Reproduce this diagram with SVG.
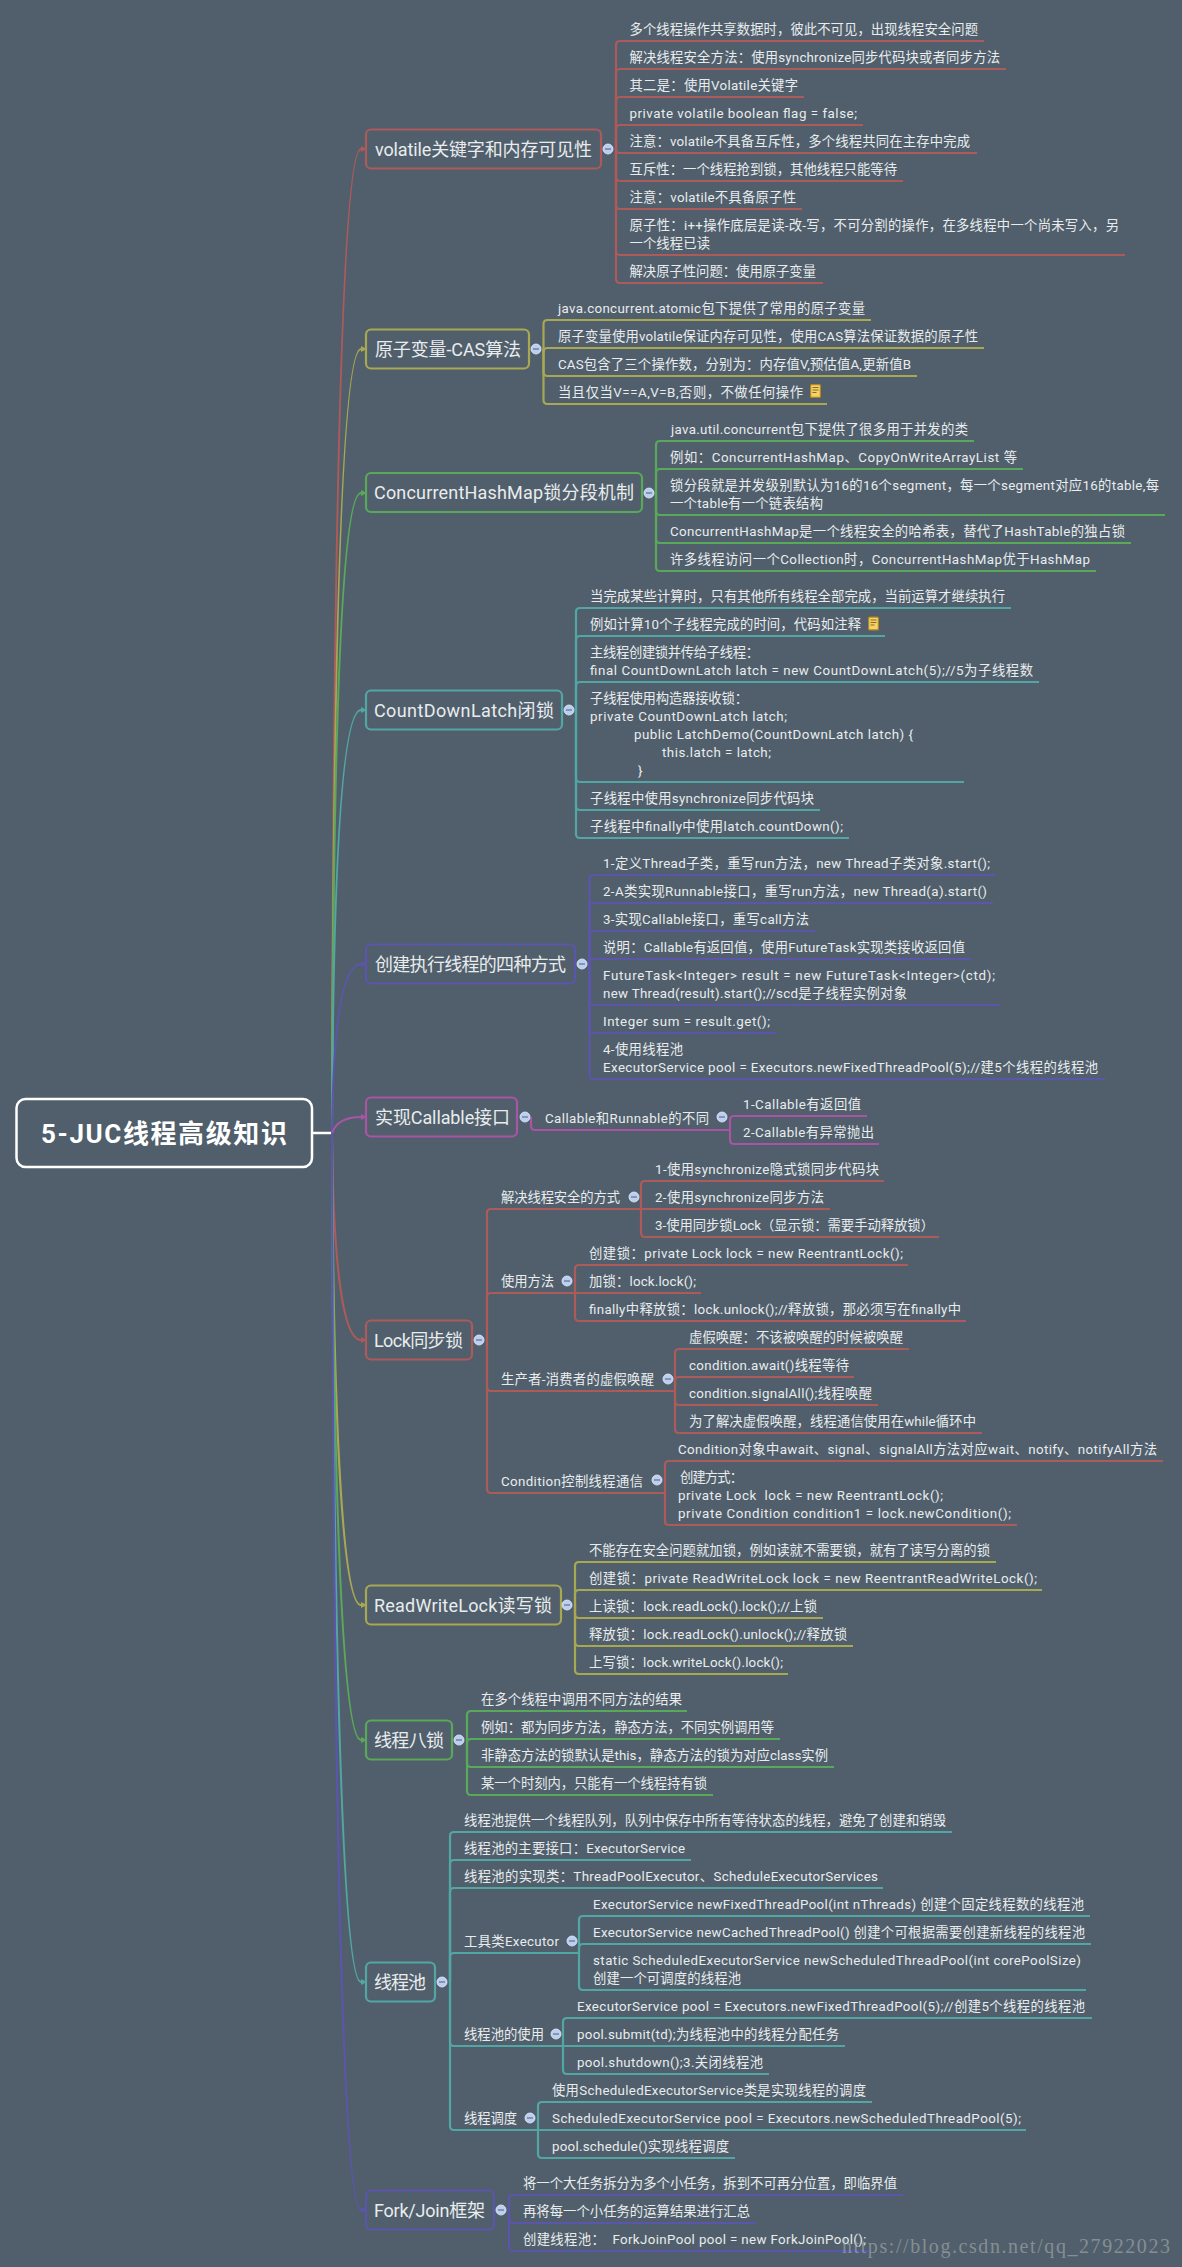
<svg xmlns="http://www.w3.org/2000/svg" width="1182" height="2267" viewBox="0 0 1182 2267">
<style>
text{font-family:Roboto,"Noto Sans CJK SC",sans-serif;fill:#e9ecee}
.t{font-size:13.33px}
.n{font-size:18px}
.r{font-size:26px;font-weight:700;fill:#fff}
.b{fill:none;stroke-width:2.2}
.s{fill:none;stroke-width:2}
.c1{stroke:#ad5a5a}.c2{stroke:#a8a752}.c3{stroke:#5aa85a}.c4{stroke:#52a6a4}.c5{stroke:#5b56ac}.c6{stroke:#aa54a5}
.box{fill:none;stroke-width:2.2}
.d{fill:#bccff2;stroke:#dfe8f8;stroke-width:.8}
.m{stroke:#5f6f86;stroke-width:1.2}
</style>
<defs>
<marker id="a1" viewBox="0 0 6 6" refX="0" refY="3" markerWidth="6" markerHeight="6" markerUnits="userSpaceOnUse" orient="auto"><path d="M0 0L6 3L0 6z" fill="#ad5a5a"/></marker>
<marker id="a2" viewBox="0 0 6 6" refX="0" refY="3" markerWidth="6" markerHeight="6" markerUnits="userSpaceOnUse" orient="auto"><path d="M0 0L6 3L0 6z" fill="#a8a752"/></marker>
<marker id="a3" viewBox="0 0 6 6" refX="0" refY="3" markerWidth="6" markerHeight="6" markerUnits="userSpaceOnUse" orient="auto"><path d="M0 0L6 3L0 6z" fill="#5aa85a"/></marker>
<marker id="a4" viewBox="0 0 6 6" refX="0" refY="3" markerWidth="6" markerHeight="6" markerUnits="userSpaceOnUse" orient="auto"><path d="M0 0L6 3L0 6z" fill="#52a6a4"/></marker>
<marker id="a5" viewBox="0 0 6 6" refX="0" refY="3" markerWidth="6" markerHeight="6" markerUnits="userSpaceOnUse" orient="auto"><path d="M0 0L6 3L0 6z" fill="#5b56ac"/></marker>
<marker id="a6" viewBox="0 0 6 6" refX="0" refY="3" markerWidth="6" markerHeight="6" markerUnits="userSpaceOnUse" orient="auto"><path d="M0 0L6 3L0 6z" fill="#aa54a5"/></marker>
<g id="note"><rect x=".6" y=".6" width="9.8" height="12.8" rx="1" fill="#f3d36a" stroke="#b5851f" stroke-width="1.2"/><path d="M2.5 3.5H8.5M2.5 6H8.5M2.5 8.5H6.5" stroke="#8a6a20" stroke-width="1"/></g>
</defs>
<rect width="1182" height="2267" fill="#505f6b"/>
<g id="connectors">
<path d="M312 1133H332" stroke="#fff" stroke-width="2.5" fill="none"/>
<path class="s c1" marker-end="url(#a1)" d="M332 1133C333 600 340 149 361 149"/>
<path class="s c2" marker-end="url(#a2)" d="M332 1133C333 700 340 349 361 349"/>
<path class="s c3" marker-end="url(#a3)" d="M332 1133C333 770 340 493 361 493"/>
<path class="s c4" marker-end="url(#a4)" d="M332 1133C333 900 340 710 361 710"/>
<path class="s c5" marker-end="url(#a5)" d="M332 1133C333 1040 340 964 361 964"/>
<path class="s c6" marker-end="url(#a6)" stroke-width="2.2" d="M332 1133C336 1122 345 1117 361 1117"/>
<path class="s c1" marker-end="url(#a1)" d="M332 1133C333 1240 340 1340 361 1340"/>
<path class="s c2" marker-end="url(#a2)" d="M332 1133C333 1370 340 1605 361 1605"/>
<path class="s c3" marker-end="url(#a3)" d="M332 1133C333 1430 340 1740 361 1740"/>
<path class="s c4" marker-end="url(#a4)" d="M332 1133C333 1550 340 1982 361 1982"/>
<path class="s c5" marker-end="url(#a5)" d="M332 1133C333 1670 340 2210 361 2210"/>

<g class="b c1">
<path d="M616 149V45Q616 41 620 41H984"/><path d="M616 149V73Q616 69 620 69H1006"/><path d="M616 149V101Q616 97 620 97H804"/><path d="M616 149V129Q616 125 620 125H863"/><path d="M616 149Q616 153 620 153H977"/><path d="M616 149V177Q616 181 620 181H903"/><path d="M616 149V205Q616 209 620 209H802"/><path d="M616 149V251Q616 255 620 255H1125"/><path d="M616 149V279Q616 283 620 283H823"/>
</g>
<g class="b c2">
<path d="M543.500 349V324Q543.500 320 547.500 320H871"/><path d="M543.500 352Q543.500 348 547.500 348H984"/><path d="M543.500 349V372Q543.500 376 547.500 376H917"/><path d="M543.500 349V400Q543.500 404 547.500 404H827"/>
</g>
<g class="b c3">
<path d="M656 493V445Q656 441 660 441H974"/><path d="M656 493V473Q656 469 660 469H1023"/><path d="M656 493V511Q656 515 660 515H1165"/><path d="M656 493V539Q656 543 660 543H1131"/><path d="M656 493V567Q656 571 660 571H1096"/>
</g>
<g class="b c4">
<path d="M576 710V612Q576 608 580 608H1011"/><path d="M576 710V640Q576 636 580 636H885"/><path d="M576 710V686Q576 682 580 682H1039"/><path d="M576 710V778Q576 782 580 782H964"/><path d="M576 710V806Q576 810 580 810H820"/><path d="M576 710V834Q576 838 580 838H849"/>
</g>
<g class="b c5">
<path d="M589.500 964V879Q589.500 875 593.500 875H995"/><path d="M589.500 964V907Q589.500 903 593.500 903H993"/><path d="M589.500 964V935Q589.500 931 593.500 931H815"/><path d="M589.500 964V963Q589.500 959 593.500 959H971"/><path d="M589.500 964V1001Q589.500 1005 593.500 1005H1000"/><path d="M589.500 964V1029Q589.500 1033 593.500 1033H776"/><path d="M589.500 964V1075Q589.500 1079 593.500 1079H1105"/>
</g>
<g class="b c6">
<path d="M531 1117V1126Q531 1130 535 1130H729"/>
<path d="M730 1130V1120Q730 1116 734 1116H867"/><path d="M730 1130V1140Q730 1144 734 1144H879"/>
</g>
<g class="b c1">
<path d="M487 1340V1213Q487 1209 491 1209H641"/><path d="M487 1340V1297Q487 1293 491 1293H575"/><path d="M487 1340V1387Q487 1391 491 1391H675"/><path d="M487 1340V1489Q487 1493 491 1493H665"/>
<path d="M641 1209V1185Q641 1181 645 1181H884"/><path d="M641 1209H830"/><path d="M641 1209V1233Q641 1237 645 1237H939"/>
<path d="M575 1293V1269Q575 1265 579 1265H908"/><path d="M575 1293H701"/><path d="M575 1293V1317Q575 1321 579 1321H966"/>
<path d="M675 1391V1353Q675 1349 679 1349H909"/><path d="M675 1391V1381Q675 1377 679 1377H854"/><path d="M675 1391V1401Q675 1405 679 1405H878"/><path d="M675 1391V1429Q675 1433 679 1433H982"/>
<path d="M665 1493V1465Q665 1461 669 1461H1163"/><path d="M665 1493V1521Q665 1525 669 1525H1017"/>
</g>
<g class="b c2">
<path d="M575 1605V1566Q575 1562 579 1562H996"/><path d="M575 1605V1594Q575 1590 579 1590H1042"/><path d="M575 1605V1614Q575 1618 579 1618H823"/><path d="M575 1605V1642Q575 1646 579 1646H853"/><path d="M575 1605V1670Q575 1674 579 1674H788"/>
</g>
<g class="b c3">
<path d="M467 1740V1715Q467 1711 471 1711H687"/><path d="M467 1743Q467 1739 471 1739H780"/><path d="M467 1740V1763Q467 1767 471 1767H834"/><path d="M467 1740V1791Q467 1795 471 1795H713"/>
</g>
<g class="b c4">
<path d="M450 1982V1836Q450 1832 454 1832H952"/><path d="M450 1982V1864Q450 1860 454 1860H691"/><path d="M450 1982V1892Q450 1888 454 1888H883"/><path d="M450 1982V1957Q450 1953 454 1953H579"/><path d="M450 1982V2042Q450 2046 454 2046H845"/><path d="M450 1982V2126Q450 2130 454 2130H1026"/>
<path d="M579 1953V1920Q579 1916 583 1916H1090"/><path d="M579 1953V1948Q579 1944 583 1944H1091"/><path d="M579 1953V1986Q579 1990 583 1990H1086"/>
<path d="M563 2046V2022Q563 2018 567 2018H1092"/><path d="M563 2046V2070Q563 2074 567 2074H769"/>
<path d="M538 2130V2106Q538 2102 542 2102H872"/><path d="M538 2130V2154Q538 2158 542 2158H735"/>
</g>
<g class="b c5">
<path d="M509 2210V2199Q509 2195 513 2195H903"/><path d="M509 2210V2219Q509 2223 513 2223H756"/><path d="M509 2210V2247Q509 2251 513 2251H871"/>
</g>
</g>

<g id="root"><rect x="16.500" y="1099" width="295.500" height="68" rx="9" fill="none" stroke="#fff" stroke-width="2.5"/><text class="r" x="41" y="1142.500" textLength="246">5-JUC线程高级知识</text></g>

<g id="volatile"><rect class="box c1" x="366" y="129.500" width="235" height="39" rx="5"/><text class="n" x="375" y="155.500" textLength="217">volatile关键字和内存可见性</text><circle class="d" cx="608" cy="149" r="5"/><path class="m" d="M605 149H611"/></g>
<g id="v1"><text class="t" x="629.500" y="34" textLength="348.500">多个线程操作共享数据时，彼此不可见，出现线程安全问题</text></g>
<g id="v2"><text class="t" x="629.500" y="62" textLength="370.500">解决线程安全方法：使用synchronize同步代码块或者同步方法</text></g>
<g id="v3"><text class="t" x="629.500" y="90" textLength="168.500">其二是：使用Volatile关键字</text></g>
<g id="v4"><text class="t" x="629.500" y="118" textLength="227.500">private volatile boolean flag = false;</text></g>
<g id="v5"><text class="t" x="629.500" y="146" textLength="340.500">注意：volatile不具备互斥性，多个线程共同在主存中完成</text></g>
<g id="v6"><text class="t" x="629.500" y="174" textLength="267.500">互斥性：一个线程抢到锁，其他线程只能等待</text></g>
<g id="v7"><text class="t" x="629.500" y="202" textLength="166.500">注意：volatile不具备原子性</text></g>
<g id="v8"><text class="t" x="629.500" y="230" textLength="489.500">原子性：i++操作底层是读-改-写，不可分割的操作，在多线程中一个尚未写入，另</text><text class="t" x="629.500" y="248" textLength="80.500">一个线程已读</text></g>
<g id="v9"><text class="t" x="629.500" y="276" textLength="186.500">解决原子性问题：使用原子变量</text></g>

<g id="cas"><rect class="box c2" x="366" y="329.500" width="163" height="39" rx="5"/><text class="n" x="375" y="355.500" textLength="146">原子变量-CAS算法</text><circle class="d" cx="536" cy="349" r="5"/><path class="m" d="M533 349H539"/></g>
<g id="c1"><text class="t" x="558" y="313" textLength="307">java.concurrent.atomic包下提供了常用的原子变量</text></g>
<g id="c2"><text class="t" x="558" y="341" textLength="420">原子变量使用volatile保证内存可见性，使用CAS算法保证数据的原子性</text></g>
<g id="c3"><text class="t" x="558" y="369" textLength="353">CAS包含了三个操作数，分别为：内存值V,预估值A,更新值B</text></g>
<g id="c4"><text class="t" x="558" y="397" textLength="245">当且仅当V==A,V=B,否则，不做任何操作</text><use href="#note" x="810" y="384"/></g>

<g id="chm"><rect class="box c3" x="366" y="473" width="276" height="39" rx="5"/><text class="n" x="374" y="499" textLength="260">ConcurrentHashMap锁分段机制</text><circle class="d" cx="649" cy="493" r="5"/><path class="m" d="M646 493H652"/></g>
<g id="h1"><text class="t" x="671" y="434" textLength="297">java.util.concurrent包下提供了很多用于并发的类</text></g>
<g id="h2"><text class="t" x="670" y="462" textLength="347">例如：ConcurrentHashMap、CopyOnWriteArrayList 等</text></g>
<g id="h3"><text class="t" x="670" y="490" textLength="489">锁分段就是并发级别默认为16的16个segment，每一个segment对应16的table,每</text><text class="t" x="670" y="508" textLength="153">一个table有一个链表结构</text></g>
<g id="h4"><text class="t" x="670" y="536" textLength="455">ConcurrentHashMap是一个线程安全的哈希表，替代了HashTable的独占锁</text></g>
<g id="h5"><text class="t" x="670" y="564" textLength="420">许多线程访问一个Collection时，ConcurrentHashMap优于HashMap</text></g>

<g id="cdl"><rect class="box c4" x="366" y="690.500" width="196" height="39" rx="5"/><text class="n" x="374" y="716.500" textLength="180">CountDownLatch闭锁</text><circle class="d" cx="569" cy="710" r="5"/><path class="m" d="M566 710H572"/></g>
<g id="d1"><text class="t" x="590" y="601" textLength="415">当完成某些计算时，只有其他所有线程全部完成，当前运算才继续执行</text></g>
<g id="d2"><text class="t" x="590" y="629" textLength="271">例如计算10个子线程完成的时间，代码如注释</text><use href="#note" x="868" y="616.500"/></g>
<g id="d3"><text class="t" x="590" y="657" textLength="169">主线程创建锁并传给子线程：</text><text class="t" x="590" y="675" textLength="443">final CountDownLatch latch = new CountDownLatch(5);//5为子线程数</text></g>
<g id="d4"><text class="t" x="590" y="703" textLength="158">子线程使用构造器接收锁：</text><text class="t" x="590" y="721" textLength="197">private CountDownLatch latch;</text><text class="t" x="634" y="739" textLength="279">public LatchDemo(CountDownLatch latch) {</text><text class="t" x="662" y="757" textLength="109">this.latch = latch;</text><text class="t" x="638" y="775">}</text></g>
<g id="d5"><text class="t" x="590" y="803" textLength="224">子线程中使用synchronize同步代码块</text></g>
<g id="d6"><text class="t" x="590" y="831" textLength="253">子线程中finally中使用latch.countDown();</text></g>

<g id="create"><rect class="box c5" x="366" y="944.500" width="209" height="39" rx="5"/><text class="n" x="375" y="970.500" textLength="191">创建执行线程的四种方式</text><circle class="d" cx="582" cy="964" r="5"/><path class="m" d="M579 964H585"/></g>
<g id="e1"><text class="t" x="603" y="868" textLength="387">1-定义Thread子类，重写run方法，new Thread子类对象.start();</text></g>
<g id="e2"><text class="t" x="603" y="896" textLength="384">2-A类实现Runnable接口，重写run方法，new Thread(a).start()</text></g>
<g id="e3"><text class="t" x="603" y="924" textLength="206">3-实现Callable接口，重写call方法</text></g>
<g id="e4"><text class="t" x="603" y="952" textLength="362">说明：Callable有返回值，使用FutureTask实现类接收返回值</text></g>
<g id="e5"><text class="t" x="603" y="980" textLength="392">FutureTask&lt;Integer&gt; result = new FutureTask&lt;Integer&gt;(ctd);</text><text class="t" x="603" y="998" textLength="304">new Thread(result).start();//scd是子线程实例对象</text></g>
<g id="e6"><text class="t" x="603" y="1026" textLength="167">Integer sum = result.get();</text></g>
<g id="e7"><text class="t" x="603" y="1054" textLength="80">4-使用线程池</text><text class="t" x="603" y="1072" textLength="495">ExecutorService pool = Executors.newFixedThreadPool(5);//建5个线程的线程池</text></g>

<g id="callable"><rect class="box c6" x="366" y="1097.500" width="151" height="39" rx="5"/><text class="n" x="375" y="1123.500" textLength="135">实现Callable接口</text><circle class="d" cx="525" cy="1117" r="5"/><path class="m" d="M522 1117H528"/></g>
<g id="f0"><text class="t" x="545" y="1123" textLength="164">Callable和Runnable的不同</text><circle class="d" cx="722" cy="1117" r="5"/><path class="m" d="M719 1117H725"/></g>
<g id="f1"><text class="t" x="743" y="1109" textLength="118">1-Callable有返回值</text></g>
<g id="f2"><text class="t" x="743" y="1137" textLength="131">2-Callable有异常抛出</text></g>

<g id="lock"><rect class="box c1" x="366" y="1320.500" width="106" height="39" rx="5"/><text class="n" x="374" y="1346.500" textLength="89">Lock同步锁</text><circle class="d" cx="479" cy="1340" r="5"/><path class="m" d="M476 1340H482"/></g>
<g id="g1"><text class="t" x="501" y="1202" textLength="119">解决线程安全的方式</text><circle class="d" cx="634" cy="1197" r="5"/><path class="m" d="M631 1197H637"/></g>
<g id="g11"><text class="t" x="655" y="1174" textLength="224">1-使用synchronize隐式锁同步代码块</text></g>
<g id="g12"><text class="t" x="655" y="1202" textLength="169">2-使用synchronize同步方法</text></g>
<g id="g13"><text class="t" x="655" y="1230" textLength="279">3-使用同步锁Lock（显示锁：需要手动释放锁）</text></g>
<g id="g2"><text class="t" x="501" y="1286" textLength="53">使用方法</text><circle class="d" cx="567" cy="1281" r="5"/><path class="m" d="M564 1281H570"/></g>
<g id="g21"><text class="t" x="589" y="1258" textLength="314">创建锁：private Lock lock = new ReentrantLock();</text></g>
<g id="g22"><text class="t" x="589" y="1286" textLength="107">加锁：lock.lock();</text></g>
<g id="g23"><text class="t" x="589" y="1314" textLength="372">finally中释放锁：lock.unlock();//释放锁，那必须写在finally中</text></g>
<g id="g3"><text class="t" x="501" y="1384" textLength="153">生产者-消费者的虚假唤醒</text><circle class="d" cx="668" cy="1379" r="5"/><path class="m" d="M665 1379H671"/></g>
<g id="g31"><text class="t" x="689" y="1342" textLength="214">虚假唤醒：不该被唤醒的时候被唤醒</text></g>
<g id="g32"><text class="t" x="689" y="1370" textLength="160">condition.await()线程等待</text></g>
<g id="g33"><text class="t" x="689" y="1398" textLength="183">condition.signalAll();线程唤醒</text></g>
<g id="g34"><text class="t" x="689" y="1426" textLength="287">为了解决虚假唤醒，线程通信使用在while循环中</text></g>
<g id="g4"><text class="t" x="501" y="1486" textLength="142">Condition控制线程通信</text><circle class="d" cx="657" cy="1480" r="5"/><path class="m" d="M654 1480H660"/></g>
<g id="g41"><text class="t" x="678" y="1454" textLength="479">Condition对象中await、signal、signalAll方法对应wait、notify、notifyAll方法</text></g>
<g id="g42"><text class="t" x="680" y="1482" textLength="63">创建方式：</text><text class="t" x="678" y="1500" textLength="265" xml:space="preserve">private Lock  lock = new ReentrantLock();</text><text class="t" x="678" y="1518" textLength="333">private Condition condition1 = lock.newCondition();</text></g>

<g id="rwl"><rect class="box c2" x="366" y="1585.500" width="195" height="39" rx="5"/><text class="n" x="374" y="1611.500" textLength="178">ReadWriteLock读写锁</text><circle class="d" cx="567" cy="1605" r="5"/><path class="m" d="M564 1605H570"/></g>
<g id="i1"><text class="t" x="589" y="1555" textLength="401">不能存在安全问题就加锁，例如读就不需要锁，就有了读写分离的锁</text></g>
<g id="i2"><text class="t" x="589" y="1583" textLength="448">创建锁：private ReadWriteLock lock = new ReentrantReadWriteLock();</text></g>
<g id="i3"><text class="t" x="589" y="1611" textLength="228">上读锁：lock.readLock().lock();//上锁</text></g>
<g id="i4"><text class="t" x="589" y="1639" textLength="258">释放锁：lock.readLock().unlock();//释放锁</text></g>
<g id="i5"><text class="t" x="589" y="1667" textLength="194">上写锁：lock.writeLock().lock();</text></g>

<g id="eight"><rect class="box c3" x="366" y="1720.500" width="86" height="39" rx="5"/><text class="n" x="374" y="1746.500" textLength="70">线程八锁</text><circle class="d" cx="459" cy="1740" r="5"/><path class="m" d="M456 1740H462"/></g>
<g id="j1"><text class="t" x="481" y="1704" textLength="201">在多个线程中调用不同方法的结果</text></g>
<g id="j2"><text class="t" x="481" y="1732" textLength="293">例如：都为同步方法，静态方法，不同实例调用等</text></g>
<g id="j3"><text class="t" x="481" y="1760" textLength="347">非静态方法的锁默认是this，静态方法的锁为对应class实例</text></g>
<g id="j4"><text class="t" x="481" y="1788" textLength="226">某一个时刻内，只能有一个线程持有锁</text></g>

<g id="pool"><rect class="box c4" x="366" y="1962.500" width="69" height="39" rx="5"/><text class="n" x="374" y="1988.500" textLength="52">线程池</text><circle class="d" cx="442" cy="1982" r="5"/><path class="m" d="M439 1982H445"/></g>
<g id="k1"><text class="t" x="464" y="1825" textLength="482">线程池提供一个线程队列，队列中保存中所有等待状态的线程，避免了创建和销毁</text></g>
<g id="k2"><text class="t" x="464" y="1853" textLength="221">线程池的主要接口：ExecutorService</text></g>
<g id="k3"><text class="t" x="464" y="1881" textLength="414">线程池的实现类：ThreadPoolExecutor、ScheduleExecutorServices</text></g>
<g id="k4"><text class="t" x="464" y="1946" textLength="95">工具类Executor</text><circle class="d" cx="572" cy="1941" r="5"/><path class="m" d="M569 1941H575"/></g>
<g id="k41"><text class="t" x="593" y="1909" textLength="491">ExecutorService newFixedThreadPool(int nThreads) 创建个固定线程数的线程池</text></g>
<g id="k42"><text class="t" x="593" y="1937" textLength="492">ExecutorService newCachedThreadPool() 创建个可根据需要创建新线程的线程池</text></g>
<g id="k43"><text class="t" x="593" y="1965" textLength="488">static ScheduledExecutorService newScheduledThreadPool(int corePoolSize)</text><text class="t" x="593" y="1983" textLength="148">创建一个可调度的线程池</text></g>
<g id="k5"><text class="t" x="464" y="2039" textLength="80">线程池的使用</text><circle class="d" cx="556" cy="2034" r="5"/><path class="m" d="M553 2034H559"/></g>
<g id="k51"><text class="t" x="577" y="2011" textLength="508">ExecutorService pool = Executors.newFixedThreadPool(5);//创建5个线程的线程池</text></g>
<g id="k52"><text class="t" x="577" y="2039" textLength="262">pool.submit(td);为线程池中的线程分配任务</text></g>
<g id="k53"><text class="t" x="577" y="2067" textLength="186">pool.shutdown();3.关闭线程池</text></g>
<g id="k6"><text class="t" x="464" y="2123" textLength="53">线程调度</text><circle class="d" cx="530" cy="2118" r="5"/><path class="m" d="M527 2118H533"/></g>
<g id="k61"><text class="t" x="552" y="2095" textLength="314">使用ScheduledExecutorService类是实现线程的调度</text></g>
<g id="k62"><text class="t" x="552" y="2123" textLength="469">ScheduledExecutorService pool = Executors.newScheduledThreadPool(5);</text></g>
<g id="k63"><text class="t" x="552" y="2151" textLength="177">pool.schedule()实现线程调度</text></g>

<g id="fork"><rect class="box c5" x="366" y="2190.500" width="128" height="39" rx="5"/><text class="n" x="374" y="2216.500" textLength="111">Fork/Join框架</text><circle class="d" cx="501" cy="2210" r="5"/><path class="m" d="M498 2210H504"/></g>
<g id="l1"><text class="t" x="523" y="2188" textLength="374">将一个大任务拆分为多个小任务，拆到不可再分位置，即临界值</text></g>
<g id="l2"><text class="t" x="523" y="2216" textLength="227">再将每一个小任务的运算结果进行汇总</text></g>
<g id="l3"><text class="t" x="523" y="2244" textLength="343" xml:space="preserve">创建线程池：  ForkJoinPool pool = new ForkJoinPool();</text></g>

<text x="842" y="2253" textLength="328" font-size="20" style="font-family:'Liberation Serif',serif;fill:#a6acae" opacity=".62">https://blog.csdn.net/qq_27922023</text>
</svg>
